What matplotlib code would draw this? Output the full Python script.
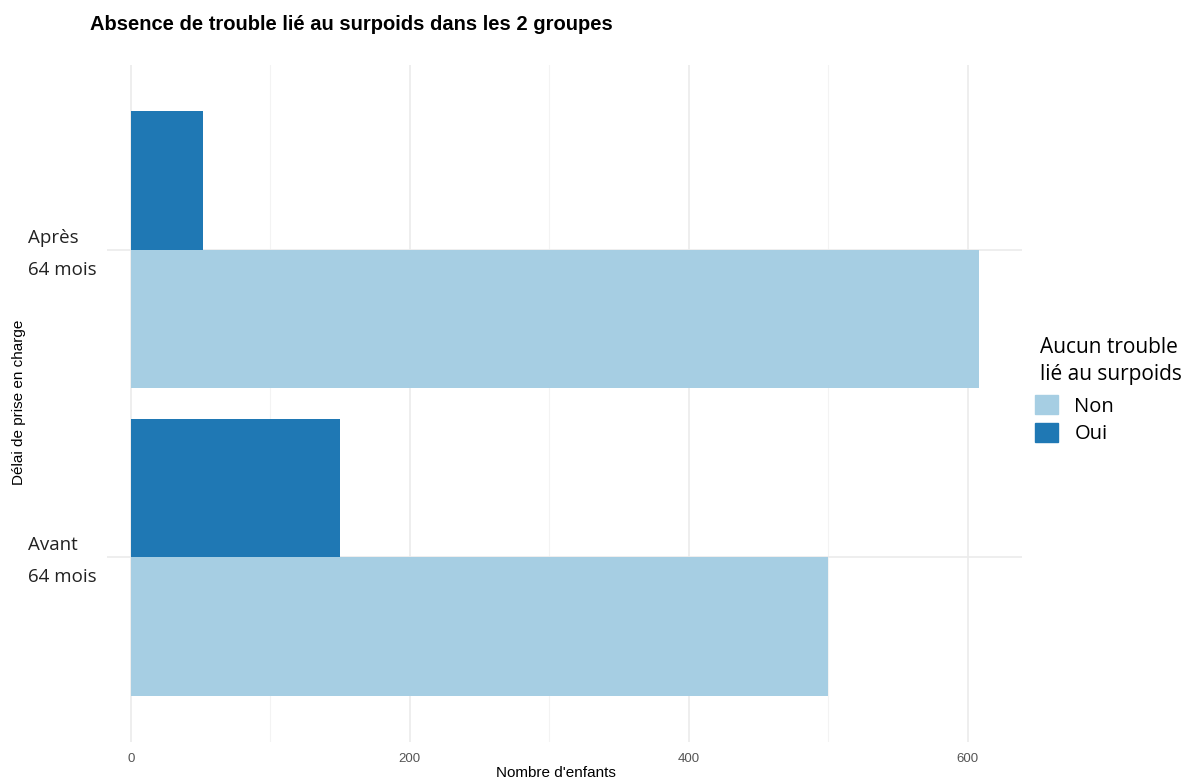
import numpy as np
import matplotlib.pyplot as plt
import matplotlib.transforms as mtransforms
from matplotlib.patches import Patch

groupes = ["Avant\n64 mois", "Après\n64 mois"]
non = [500, 608]
oui = [150, 52]
col_non = "#a6cee3"
col_oui = "#1f78b4"

fig = plt.figure(figsize=(11.83, 7.8), dpi=100)
ax = fig.add_axes([107/1183, 1-742/780, (1022-107)/1183, (742-65)/780])

y = np.arange(1, len(groupes)+1)
h = 0.45
ax.barh(y - h/2, non, height=h, color=col_non, zorder=2)
ax.barh(y + h/2, oui, height=h, color=col_oui, zorder=2)

ax.set_xlim(-17, 639)
ax.set_ylim(0.4, 2.6)
ax.set_xticks([0, 200, 400, 600])
ax.set_xticks([100, 300, 500], minor=True)
ax.set_yticks(y)
ax.set_yticklabels(groupes, fontfamily="Open Sans", fontsize=13.5, color="#222222",
                   ha="left", linespacing=2.0)
ax.tick_params(axis="y", length=0, pad=57)
ax.tick_params(axis="x", which="both", length=0, pad=8, labelsize=9.5, colors="#555555")
for lab in ax.get_xticklabels():
    lab.set_fontfamily("Liberation Sans")
# nudge the group labels up a little
decale = mtransforms.ScaledTranslation(0, 5/100, fig.dpi_scale_trans)
for lab in ax.get_yticklabels():
    lab.set_transform(lab.get_transform() + decale)

ax.grid(True, which="major", color="#ebebeb", linewidth=1.2, zorder=0)
ax.grid(True, which="minor", axis="x", color="#f3f3f3", linewidth=0.8, zorder=0)
for s in ax.spines.values():
    s.set_visible(False)

fig.text(556/1183, 1-773/780, "Nombre d'enfants", fontfamily="Liberation Sans",
         fontsize=11, ha="center", va="center")
fig.text(19/1183, 1-402/780, "Délai de prise en charge", fontfamily="Liberation Sans",
         fontsize=11, ha="center", va="center", rotation=90)

fig.text(90/1183, 1-25/780, "Absence de trouble lié au surpoids dans les 2 groupes",
         fontfamily="Liberation Sans", fontweight="bold", fontsize=14.5, va="center")

# legend title written separately so the keys can sit a bit left of it
fig.text(1040/1183, 1-361/780, "Aucun trouble\nlié au surpoids", fontfamily="Open Sans",
         fontsize=15, linespacing=1.35, va="center", ha="left")
handles = [Patch(color=col_non, label="Non"), Patch(color=col_oui, label="Oui")]
leg = fig.legend(handles=handles, loc="upper left",
                 bbox_to_anchor=(1035/1183, 1-395/780),
                 frameon=False, prop={"family": "Open Sans", "size": 14.5},
                 handlelength=1.15, handleheight=1.1, handletextpad=0.8,
                 labelspacing=0.3, borderaxespad=0, borderpad=0)

fig.savefig("out.png", dpi=100)
